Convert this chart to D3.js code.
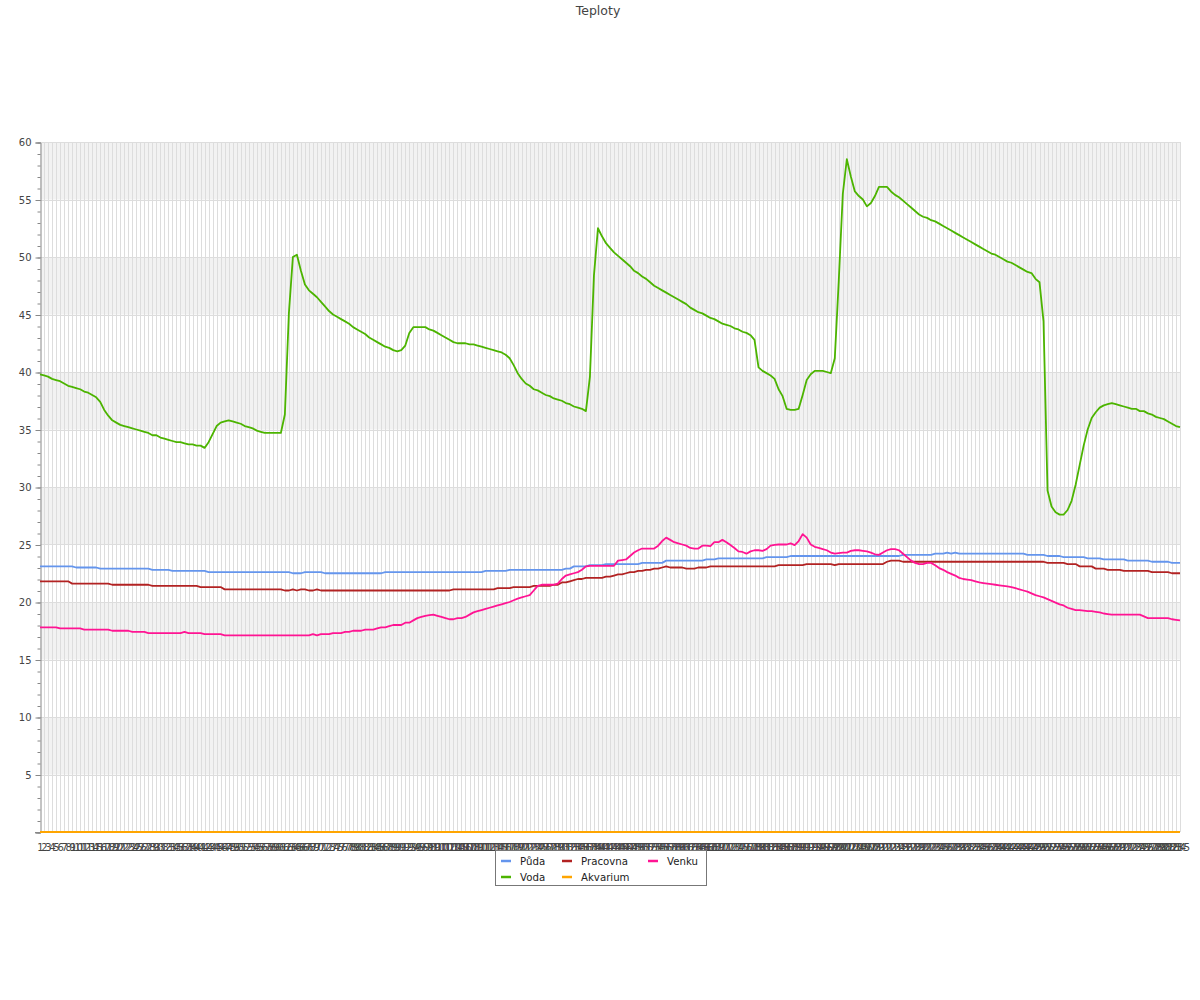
<!DOCTYPE html>
<html>
<head>
<meta charset="utf-8">
<script src="https://cdn.jsdelivr.net/npm/d3@7"></script>
<style>
  html, body { margin: 0; padding: 0; background: #fff; }
  svg { display: block; font-family: "DejaVu Sans", sans-serif; }
</style>
</head>
<body>
<svg id="chart" width="1200" height="1000"></svg>
<script>
// ---------- DATA ----------
const title = "Teploty";
const categories = d3.range(1, 286).map(String);
const seriesNames = ["Půda", "Voda", "Pracovna", "Akvarium", "Venku"];
const seriesColors = ["#6495ed", "#4cb400", "#b22222", "#ffa500", "#ff1493"];
const yTickValues = [0, 5, 10, 15, 20, 25, 30, 35, 40, 45, 50, 55, 60];

const puda = [
23.1,23.1,23.1,23.1,23.1,23.1,23.1,23.1,23.1,23.0,
23.0,23.0,23.0,23.0,23.0,22.9,22.9,22.9,22.9,22.9,
22.9,22.9,22.9,22.9,22.9,22.9,22.9,22.9,22.8,22.8,
22.8,22.8,22.8,22.7,22.7,22.7,22.7,22.7,22.7,22.7,
22.7,22.7,22.6,22.6,22.6,22.6,22.6,22.6,22.6,22.6,
22.6,22.6,22.6,22.6,22.6,22.6,22.6,22.6,22.6,22.6,
22.6,22.6,22.6,22.5,22.5,22.5,22.6,22.6,22.6,22.6,
22.6,22.5,22.5,22.5,22.5,22.5,22.5,22.5,22.5,22.5,
22.5,22.5,22.5,22.5,22.5,22.5,22.6,22.6,22.6,22.6,
22.6,22.6,22.6,22.6,22.6,22.6,22.6,22.6,22.6,22.6,
22.6,22.6,22.6,22.6,22.6,22.6,22.6,22.6,22.6,22.6,
22.6,22.7,22.7,22.7,22.7,22.7,22.7,22.8,22.8,22.8,
22.8,22.8,22.8,22.8,22.8,22.8,22.8,22.8,22.8,22.8,
22.8,22.9,22.9,23.1,23.1,23.1,23.1,23.2,23.2,23.2,
23.2,23.3,23.3,23.3,23.3,23.3,23.3,23.3,23.3,23.3,
23.4,23.4,23.4,23.4,23.4,23.4,23.6,23.6,23.6,23.6,
23.6,23.6,23.6,23.6,23.6,23.6,23.7,23.7,23.7,23.8,
23.8,23.8,23.8,23.8,23.8,23.8,23.8,23.8,23.8,23.8,
23.8,23.9,23.9,23.9,23.9,23.9,23.9,24.0,24.0,24.0,
24.0,24.0,24.0,24.0,24.0,24.0,24.0,24.0,24.0,24.0,
24.0,24.0,24.0,24.0,24.0,24.0,24.0,24.0,24.0,24.0,
24.0,24.0,24.0,24.0,24.0,24.1,24.1,24.1,24.1,24.1,
24.1,24.1,24.1,24.2,24.2,24.2,24.3,24.2,24.3,24.2,
24.2,24.2,24.2,24.2,24.2,24.2,24.2,24.2,24.2,24.2,
24.2,24.2,24.2,24.2,24.2,24.2,24.1,24.1,24.1,24.1,
24.1,24.0,24.0,24.0,24.0,23.9,23.9,23.9,23.9,23.9,
23.9,23.8,23.8,23.8,23.8,23.7,23.7,23.7,23.7,23.7,
23.7,23.6,23.6,23.6,23.6,23.6,23.6,23.5,23.5,23.5,
23.5,23.5,23.4,23.4,23.4
];

const voda = [
39.8,39.7,39.6,39.4,39.3,39.2,39.0,38.8,38.7,38.6,
38.5,38.3,38.2,38.0,37.8,37.4,36.7,36.2,35.8,35.6,
35.4,35.3,35.2,35.1,35.0,34.9,34.8,34.7,34.5,34.5,
34.3,34.2,34.1,34.0,33.9,33.9,33.8,33.7,33.7,33.6,
33.6,33.4,33.9,34.6,35.3,35.6,35.7,35.8,35.7,35.6,
35.5,35.3,35.2,35.1,34.9,34.8,34.7,34.7,34.7,34.7,
34.7,36.3,45.1,50.0,50.2,48.8,47.6,47.1,46.8,46.5,
46.1,45.7,45.3,45.0,44.8,44.6,44.4,44.2,43.9,43.7,
43.5,43.3,43.0,42.8,42.6,42.4,42.2,42.1,41.9,41.8,
41.9,42.3,43.4,43.9,43.9,43.9,43.9,43.7,43.6,43.4,
43.2,43.0,42.8,42.6,42.5,42.5,42.5,42.4,42.4,42.3,
42.2,42.1,42.0,41.9,41.8,41.7,41.5,41.2,40.6,39.9,
39.4,39.0,38.8,38.5,38.4,38.2,38.0,37.9,37.7,37.6,
37.5,37.3,37.2,37.0,36.9,36.8,36.6,39.6,48.4,52.5,
51.8,51.2,50.8,50.4,50.1,49.8,49.5,49.2,48.8,48.6,
48.3,48.1,47.8,47.5,47.3,47.1,46.9,46.7,46.5,46.3,
46.1,45.9,45.6,45.4,45.2,45.1,44.9,44.7,44.6,44.4,
44.2,44.1,44.0,43.8,43.7,43.5,43.4,43.2,42.8,40.4,
40.1,39.9,39.7,39.4,38.5,37.9,36.8,36.7,36.7,36.8,
38.0,39.3,39.8,40.1,40.1,40.1,40.0,39.9,41.2,48.0,
55.5,58.5,57.0,55.7,55.3,55.0,54.4,54.7,55.3,56.1,
56.1,56.1,55.7,55.4,55.2,54.9,54.6,54.3,54.0,53.7,
53.5,53.4,53.2,53.1,52.9,52.7,52.5,52.3,52.1,51.9,
51.7,51.5,51.3,51.1,50.9,50.7,50.5,50.3,50.2,50.0,
49.8,49.6,49.5,49.3,49.1,48.9,48.7,48.6,48.1,47.8,
44.4,29.7,28.3,27.8,27.6,27.6,28.0,28.8,30.2,31.9,
33.6,35.0,36.0,36.5,36.9,37.1,37.2,37.3,37.2,37.1,
37.0,36.9,36.8,36.8,36.6,36.6,36.4,36.3,36.1,36.0,
35.9,35.7,35.5,35.3,35.2
];

const pracovna = [
21.8,21.8,21.8,21.8,21.8,21.8,21.8,21.8,21.6,21.6,
21.6,21.6,21.6,21.6,21.6,21.6,21.6,21.6,21.5,21.5,
21.5,21.5,21.5,21.5,21.5,21.5,21.5,21.5,21.4,21.4,
21.4,21.4,21.4,21.4,21.4,21.4,21.4,21.4,21.4,21.4,
21.3,21.3,21.3,21.3,21.3,21.3,21.1,21.1,21.1,21.1,
21.1,21.1,21.1,21.1,21.1,21.1,21.1,21.1,21.1,21.1,
21.1,21.0,21.0,21.1,21.0,21.1,21.1,21.0,21.0,21.1,
21.0,21.0,21.0,21.0,21.0,21.0,21.0,21.0,21.0,21.0,
21.0,21.0,21.0,21.0,21.0,21.0,21.0,21.0,21.0,21.0,
21.0,21.0,21.0,21.0,21.0,21.0,21.0,21.0,21.0,21.0,
21.0,21.0,21.0,21.1,21.1,21.1,21.1,21.1,21.1,21.1,
21.1,21.1,21.1,21.1,21.2,21.2,21.2,21.2,21.3,21.3,
21.3,21.3,21.3,21.4,21.4,21.4,21.4,21.4,21.5,21.5,
21.7,21.7,21.8,21.9,22.0,22.0,22.1,22.1,22.1,22.1,
22.1,22.2,22.2,22.3,22.4,22.4,22.5,22.6,22.6,22.7,
22.7,22.8,22.8,22.9,22.9,23.0,23.1,23.0,23.0,23.0,
23.0,22.9,22.9,22.9,23.0,23.0,23.0,23.1,23.1,23.1,
23.1,23.1,23.1,23.1,23.1,23.1,23.1,23.1,23.1,23.1,
23.1,23.1,23.1,23.1,23.2,23.2,23.2,23.2,23.2,23.2,
23.2,23.3,23.3,23.3,23.3,23.3,23.3,23.3,23.2,23.3,
23.3,23.3,23.3,23.3,23.3,23.3,23.3,23.3,23.3,23.3,
23.3,23.5,23.6,23.6,23.6,23.5,23.5,23.5,23.5,23.5,
23.5,23.5,23.5,23.5,23.5,23.5,23.5,23.5,23.5,23.5,
23.5,23.5,23.5,23.5,23.5,23.5,23.5,23.5,23.5,23.5,
23.5,23.5,23.5,23.5,23.5,23.5,23.5,23.5,23.5,23.5,
23.5,23.4,23.4,23.4,23.4,23.4,23.3,23.3,23.3,23.1,
23.1,23.1,23.1,22.9,22.9,22.9,22.8,22.8,22.8,22.8,
22.7,22.7,22.7,22.7,22.7,22.7,22.7,22.6,22.6,22.6,
22.6,22.6,22.5,22.5,22.5
];

const akvarium = [
0,0,0,0,0,0,0,0,0,0, 0,0,0,0,0,0,0,0,0,0, 0,0,0,0,0,0,0,0,0,0,
0,0,0,0,0,0,0,0,0,0, 0,0,0,0,0,0,0,0,0,0, 0,0,0,0,0,0,0,0,0,0,
0,0,0,0,0,0,0,0,0,0, 0,0,0,0,0,0,0,0,0,0, 0,0,0,0,0,0,0,0,0,0,
0,0,0,0,0,0,0,0,0,0, 0,0,0,0,0,0,0,0,0,0, 0,0,0,0,0,0,0,0,0,0,
0,0,0,0,0,0,0,0,0,0, 0,0,0,0,0,0,0,0,0,0, 0,0,0,0,0,0,0,0,0,0,
0,0,0,0,0,0,0,0,0,0, 0,0,0,0,0,0,0,0,0,0, 0,0,0,0,0,0,0,0,0,0,
0,0,0,0,0,0,0,0,0,0, 0,0,0,0,0,0,0,0,0,0, 0,0,0,0,0,0,0,0,0,0,
0,0,0,0,0,0,0,0,0,0, 0,0,0,0,0,0,0,0,0,0, 0,0,0,0,0,0,0,0,0,0,
0,0,0,0,0,0,0,0,0,0, 0,0,0,0,0,0,0,0,0,0, 0,0,0,0,0,0,0,0,0,0,
0,0,0,0,0,0,0,0,0,0,
0,0,0,0,0
];

const venku = [
17.8,17.8,17.8,17.8,17.8,17.7,17.7,17.7,17.7,17.7,
17.7,17.6,17.6,17.6,17.6,17.6,17.6,17.6,17.5,17.5,
17.5,17.5,17.5,17.4,17.4,17.4,17.4,17.3,17.3,17.3,
17.3,17.3,17.3,17.3,17.3,17.3,17.4,17.3,17.3,17.3,
17.3,17.2,17.2,17.2,17.2,17.2,17.1,17.1,17.1,17.1,
17.1,17.1,17.1,17.1,17.1,17.1,17.1,17.1,17.1,17.1,
17.1,17.1,17.1,17.1,17.1,17.1,17.1,17.1,17.2,17.1,
17.2,17.2,17.2,17.3,17.3,17.3,17.4,17.4,17.5,17.5,
17.5,17.6,17.6,17.6,17.7,17.8,17.8,17.9,18.0,18.0,
18.0,18.2,18.2,18.4,18.6,18.7,18.8,18.85,18.9,18.8,
18.7,18.6,18.5,18.5,18.6,18.6,18.7,18.9,19.1,19.2,
19.3,19.4,19.5,19.6,19.7,19.8,19.9,20.0,20.15,20.3,
20.4,20.5,20.6,21.0,21.4,21.5,21.5,21.5,21.5,21.6,
22.0,22.3,22.4,22.5,22.6,22.8,23.1,23.15,23.15,23.15,
23.15,23.15,23.15,23.15,23.6,23.65,23.7,24.0,24.3,24.5,
24.65,24.65,24.65,24.65,24.9,25.3,25.6,25.4,25.2,25.1,
25.0,24.9,24.7,24.65,24.65,24.9,24.9,24.85,25.2,25.2,
25.4,25.2,24.95,24.7,24.4,24.35,24.2,24.4,24.5,24.5,
24.45,24.6,24.9,24.96,25.0,25.0,25.0,25.1,24.95,25.3,
25.9,25.6,25.0,24.8,24.7,24.6,24.5,24.3,24.2,24.25,
24.3,24.3,24.45,24.5,24.5,24.45,24.4,24.3,24.15,24.1,
24.3,24.5,24.6,24.6,24.5,24.2,23.9,23.6,23.4,23.3,
23.3,23.4,23.4,23.2,22.95,22.8,22.6,22.45,22.3,22.1,
22.0,21.95,21.9,21.8,21.7,21.65,21.6,21.55,21.5,21.45,
21.4,21.35,21.3,21.2,21.1,21.0,20.9,20.75,20.6,20.5,
20.4,20.25,20.1,19.95,19.8,19.7,19.5,19.4,19.3,19.3,
19.25,19.2,19.2,19.15,19.1,19.0,18.95,18.9,18.9,18.9,
18.9,18.9,18.9,18.9,18.9,18.75,18.6,18.6,18.6,18.6,
18.6,18.6,18.5,18.45,18.4
];

const seriesValues = [puda, voda, pracovna, akvarium, venku];

// ---------- LAYOUT ----------
const svg = d3.select("#chart");
const plot = { left: 40, right: 1180, top: 142, bottom: 832 };

const x = d3.scalePoint().domain(categories).range([plot.left, plot.right]);
const y = d3.scaleLinear().domain([0, 60]).range([plot.bottom, plot.top]);

// Title
svg.append("text")
  .attr("x", 598).attr("y", 15)
  .attr("text-anchor", "middle")
  .attr("font-size", "12.5px")
  .attr("fill", "#444")
  .text(title);

// Alternating bands
const bands = [];
for (let k = 0; k < yTickValues.length - 1; k++) {
  if (k % 2 === 1) bands.push([yTickValues[k], yTickValues[k + 1]]);
}
svg.append("g").selectAll("rect").data(bands).join("rect")
  .attr("x", plot.left)
  .attr("width", plot.right - plot.left)
  .attr("y", d => y(d[1]))
  .attr("height", d => y(d[0]) - y(d[1]))
  .attr("fill", "#f2f2f2");

// Horizontal grid lines
svg.append("g").selectAll("line").data(yTickValues.filter(v => v > 0)).join("line")
  .attr("x1", plot.left).attr("x2", plot.right)
  .attr("y1", d => Math.round(y(d)) + 0.5).attr("y2", d => Math.round(y(d)) + 0.5)
  .attr("stroke", "#dddddd").attr("stroke-width", 1);

// Vertical grid lines (one per category)
svg.append("g").selectAll("line").data(categories.slice(1)).join("line")
  .attr("x1", d => Math.round(x(d)) + 0.5).attr("x2", d => Math.round(x(d)) + 0.5)
  .attr("y1", plot.top).attr("y2", plot.bottom)
  .attr("stroke", "#dddddd").attr("stroke-width", 1);

// Y axis: minor ticks
const minorTicks = d3.range(0, 61, 1);
svg.append("g")
  .attr("transform", `translate(${plot.left + 0.5},0.5)`)
  .call(d3.axisLeft(y).tickValues(minorTicks).tickSize(3).tickFormat(""))
  .call(g => g.select(".domain").remove())
  .call(g => g.selectAll("line").attr("stroke", "#888"));

// Y axis: major ticks + labels
svg.append("g")
  .attr("transform", `translate(${plot.left + 0.5},0.5)`)
  .call(d3.axisLeft(y).tickValues(yTickValues).tickSize(5).tickPadding(4)
    .tickFormat(d => d === 0 ? "" : d))
  .call(g => g.select(".domain").attr("stroke", "#888"))
  .call(g => g.selectAll("line").attr("stroke", "#888"))
  .call(g => g.selectAll("text").attr("font-size", "10px").attr("fill", "#444")
    .attr("font-family", "DejaVu Sans, sans-serif"));

// X axis
svg.append("g")
  .attr("transform", `translate(0,${plot.bottom + 0.5})`)
  .call(d3.axisBottom(x).tickSize(0).tickPadding(11))
  .call(g => g.select(".domain").attr("stroke", "#888").attr("d", `M${plot.left - 5},0H${plot.right}`))
  .call(g => g.selectAll("text").attr("font-size", "10px").attr("fill", "#444")
    .attr("font-family", "DejaVu Sans, sans-serif"));

// Lines
const line = d3.line()
  .x((d, i) => x(categories[i]))
  .y(d => y(d));

svg.append("g").selectAll("path").data(seriesValues).join("path")
  .attr("d", d => line(d))
  .attr("fill", "none")
  .attr("stroke", (d, i) => seriesColors[i])
  .attr("stroke-width", 1.8)
  .attr("stroke-linejoin", "round");

// Legend
const legend = svg.append("g");
legend.append("rect")
  .attr("x", 495.5).attr("y", 850.5)
  .attr("width", 211).attr("height", 35)
  .attr("fill", "#fff").attr("stroke", "#777").attr("stroke-width", 1);

const colX = [520, 581, 667];
const rowY = [861, 877];
seriesNames.forEach((name, i) => {
  const col = Math.floor(i / 2), row = i % 2;
  const tx = colX[col], ty = rowY[row];
  legend.append("line")
    .attr("x1", tx - 19).attr("x2", tx - 9)
    .attr("y1", ty).attr("y2", ty)
    .attr("stroke", seriesColors[i]).attr("stroke-width", 2.5);
  legend.append("text")
    .attr("x", tx).attr("y", ty + 3.5)
    .attr("font-size", "10.2px").attr("fill", "#222")
    .text(name);
});
</script>
</body>
</html>
